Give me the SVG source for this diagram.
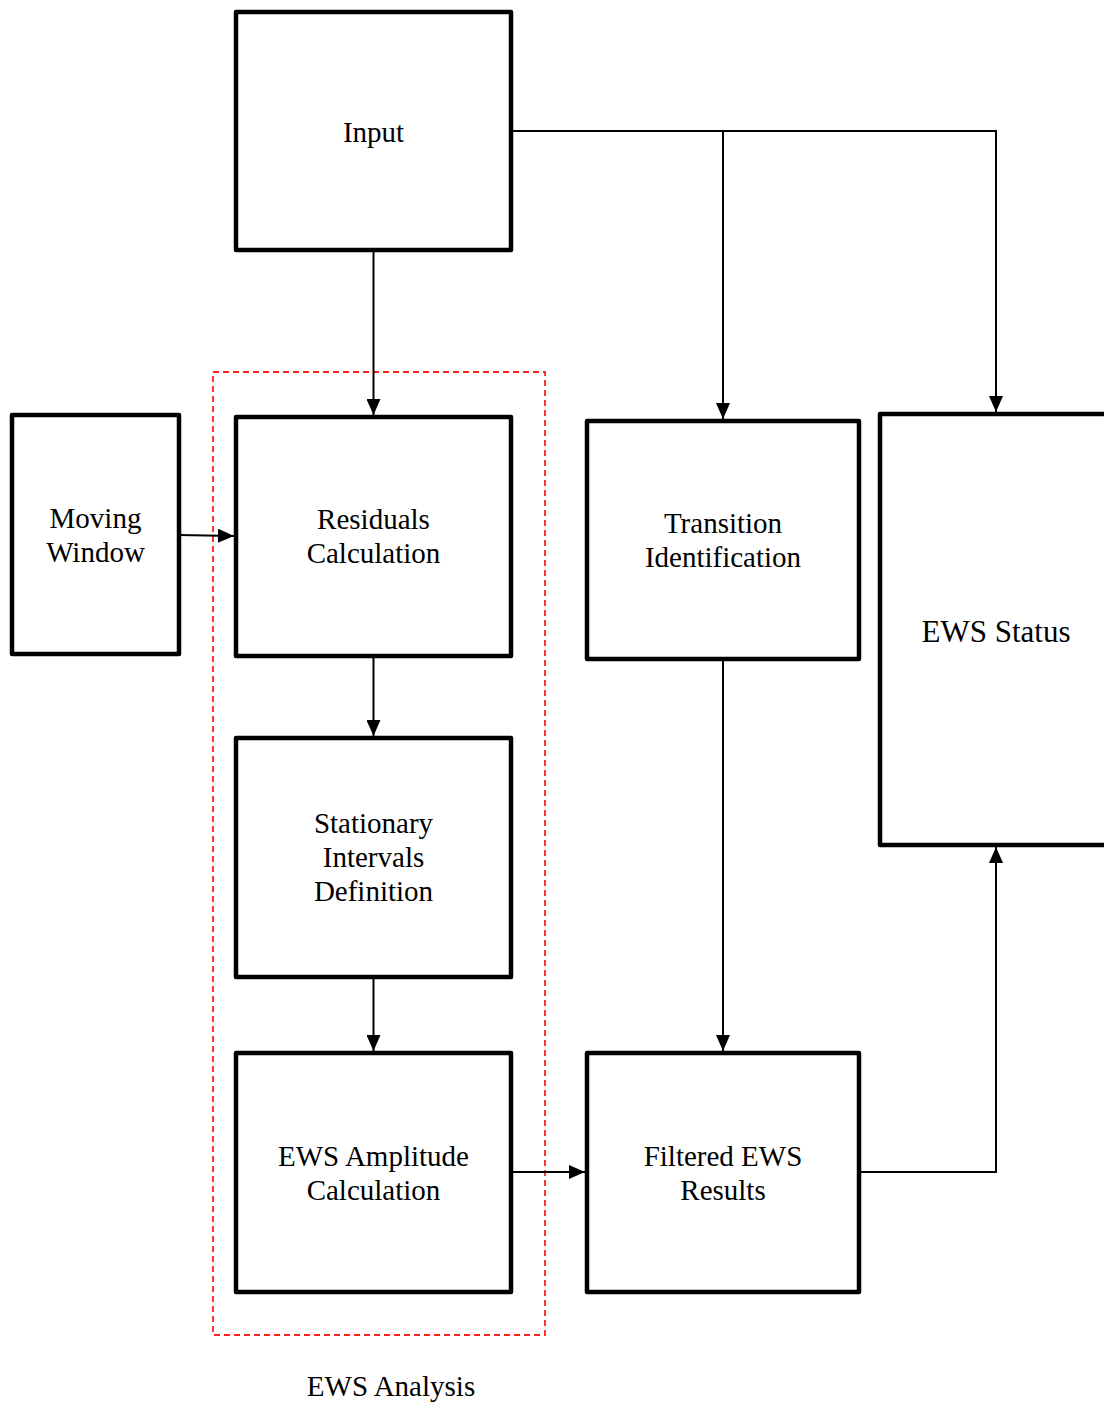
<svg xmlns="http://www.w3.org/2000/svg" width="1104" height="1403" viewBox="0 0 1104 1403">
<defs>
<marker id="arr" viewBox="0 0 16 14" refX="16" refY="7" markerWidth="16" markerHeight="14" markerUnits="userSpaceOnUse" orient="auto">
<path d="M0,0 L16,7 L0,14 Z" fill="#000"/>
</marker>
<style>
.box{fill:#fff;stroke:#000;stroke-width:4.5;stroke-linejoin:round}
.t{font-family:"Liberation Serif","Times New Roman",serif;font-size:29px;fill:#000;text-anchor:middle}
.c{fill:none;stroke:#000;stroke-width:2}
</style>
</defs>
<rect width="1104" height="1403" fill="#fff"/>
<g id="group-ews-analysis">
<rect x="213" y="372" width="332" height="963" fill="none" stroke="#ff2020" stroke-width="1.8" stroke-dasharray="6,4"/>
<text class="t" x="391" y="1396">EWS Analysis</text>
</g>
<g id="connectors">
<path class="c" d="M511,131 H996 V412" marker-end="url(#arr)"/>
<path class="c" d="M723,131 V419" marker-end="url(#arr)"/>
<path class="c" d="M373.5,250 V415" marker-end="url(#arr)"/>
<path class="c" d="M179,535 L234,536" marker-end="url(#arr)"/>
<path class="c" d="M373.5,656 V736" marker-end="url(#arr)"/>
<path class="c" d="M373.5,977 V1051" marker-end="url(#arr)"/>
<path class="c" d="M511,1172 H585" marker-end="url(#arr)"/>
<path class="c" d="M723,659 V1051" marker-end="url(#arr)"/>
<path class="c" d="M859,1172 H996 V847" marker-end="url(#arr)"/>
</g>
<g id="input">
<rect class="box" x="236" y="12" width="275" height="238"/>
<text class="t" x="373.5" y="142">Input</text>
</g>
<g id="moving-window">
<rect class="box" x="12" y="415" width="167" height="239"/>
<text class="t" x="95.5" y="528">Moving</text>
<text class="t" x="95.5" y="562">Window</text>
</g>
<g id="residuals">
<rect class="box" x="236" y="417" width="275" height="239"/>
<text class="t" x="373.5" y="529">Residuals</text>
<text class="t" x="373.5" y="563">Calculation</text>
</g>
<g id="stationary">
<rect class="box" x="236" y="738" width="275" height="239"/>
<text class="t" x="373.5" y="833">Stationary</text>
<text class="t" x="373.5" y="867">Intervals</text>
<text class="t" x="373.5" y="901">Definition</text>
</g>
<g id="ews-amplitude">
<rect class="box" x="236" y="1053" width="275" height="239"/>
<text class="t" x="373.5" y="1166">EWS Amplitude</text>
<text class="t" x="373.5" y="1200">Calculation</text>
</g>
<g id="transition">
<rect class="box" x="587" y="421" width="272" height="238"/>
<text class="t" x="723" y="533">Transition</text>
<text class="t" x="723" y="567">Identification</text>
</g>
<g id="filtered">
<rect class="box" x="587" y="1053" width="272" height="239"/>
<text class="t" x="723" y="1166">Filtered EWS</text>
<text class="t" x="723" y="1200">Results</text>
</g>
<g id="ews-status">
<rect class="box" x="880" y="414" width="240" height="431"/>
<text class="t" x="996" y="642" style="font-size:31px">EWS Status</text>
</g>
</svg>
